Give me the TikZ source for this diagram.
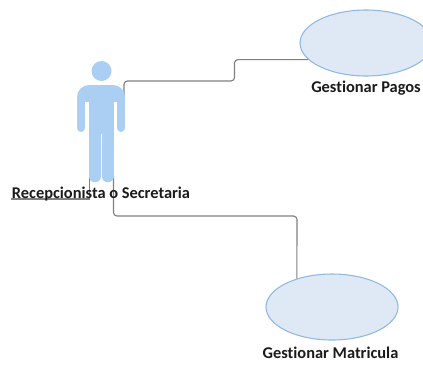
\documentclass[tikz,border=0pt]{standalone}
\usepackage{fontspec}
\setmainfont{Carlito}[Ligatures=NoCommon]
\usetikzlibrary{shapes.geometric}
\definecolor{usefill}{HTML}{DFE9F5}
\definecolor{useline}{HTML}{8FB8E4}
\definecolor{actorblue}{HTML}{ABCFF2}
\definecolor{connline}{HTML}{808080}
\definecolor{labeltext}{HTML}{1A1A1A}
\tikzset{
  x=0.75pt,y=-0.75pt,
  usecase/.style={draw=useline,line width=0.8pt,fill=usefill,ellipse,inner sep=0pt,minimum width=99pt,minimum height=49.5pt},
  conn/.style={draw=connline,line width=0.85pt,rounded corners=2.6pt},
  actorlabel/.style={font=\bfseries\fontsize{12.3pt}{13pt}\selectfont,text=labeltext,inner sep=0pt,anchor=base},
  actorarm/.style={draw=actorblue,line width=6pt,line cap=round},
  actorleg/.style={draw=actorblue,line width=8.7pt,line cap=round},
  actorpart/.style={fill=actorblue,draw=none},
}
\begin{document}
\begin{tikzpicture}
\useasboundingbox (0,0) rectangle (423,364);
\node[usecase] (pagos) at (366,43) {};
\node[usecase] (matricula) at (332,307) {};
% connector anchors on the actor
\coordinate (armR) at (124,116);
\coordinate (legR) at (113.5,176);
\coordinate (legL) at (89.5,176);
\coordinate (tick) at (11,199);
\coordinate (b1) at (124,81);
\coordinate (b2) at (234.5,81);
\coordinate (b3) at (113.5,216);
\coordinate (b4) at (297,216);
\draw[conn] (armR) -- (b1) -- (b2) -- (b2 |- pagos.196.6) -- (pagos.196.6);
\draw[conn] (legR) -- (b3) -- (b4) -- (matricula.141.3);
\draw[conn,rounded corners=0pt] (legL) -- (legL |- tick) -- (tick);
% actor figure
\fill[actorpart] (101.5,71) circle[radius=10];
\draw[actorarm] (81,100) -- (81,128);
\draw[actorarm] (121,100) -- (121,128);
\fill[actorpart,rounded corners=9pt] (77,112) -- (77,85) -- (125,85) -- (125,112) -- cycle;
\fill[white] (85,102) rectangle (89,116);
\fill[white] (113.5,102) rectangle (117,116);
\fill[actorpart] (89,100) rectangle (113.5,134);
\draw[actorleg] (94.8,130) -- (94.8,176.5);
\draw[actorleg] (107.7,130) -- (107.7,176.5);
% labels
\node[actorlabel] (lactor) at (101,198) {Recepcionista o Secretaria};
\node[actorlabel] (lpagos) at (366,92.5) {Gestionar Pagos};
\node[actorlabel] (lmatricula) at (330.5,358) {Gestionar Matricula};
\end{tikzpicture}
\end{document}
